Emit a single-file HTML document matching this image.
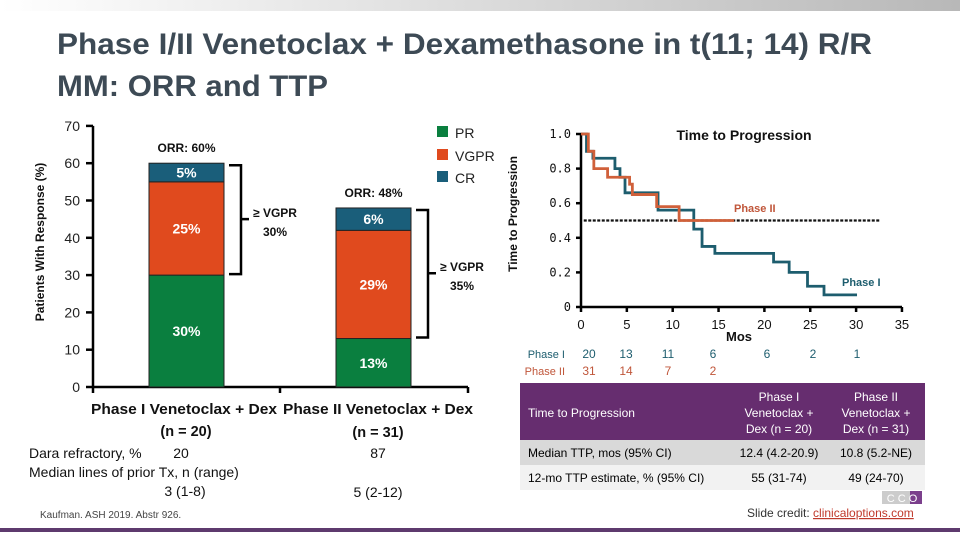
<!DOCTYPE html>
<html><head><meta charset="utf-8"><style>
html,body{margin:0;padding:0;background:#fff;}
svg{display:block;font-family:"Liberation Sans",sans-serif;}
</style></head><body>
<svg id="s" width="960" height="540" viewBox="0 0 960 540">
<defs><linearGradient id="g" x1="0" x2="1"><stop offset="0" stop-color="#fff"/><stop offset="1" stop-color="#b8b8b8"/></linearGradient></defs>
<rect x="0" y="0" width="960" height="11" fill="url(#g)"/>
<text x="57" y="54" font-size="30" font-weight="bold" fill="#3d4a55" textLength="815" lengthAdjust="spacingAndGlyphs">Phase I/II Venetoclax + Dexamethasone in t(11; 14) R/R</text>
<text x="57" y="96" font-size="30" font-weight="bold" fill="#3d4a55" textLength="271" lengthAdjust="spacingAndGlyphs">MM: ORR and TTP</text>
<g id="bar"></g>
<g id="km"></g>
<g font-size="14" fill="#111">
<text x="91" y="414" font-size="14.5" font-weight="bold" textLength="186" lengthAdjust="spacingAndGlyphs">Phase I Venetoclax + Dex</text>
<text x="186" y="436" text-anchor="middle" font-weight="bold" font-size="14.5">(n = 20)</text>
<text x="283" y="414" font-size="14.5" font-weight="bold" textLength="190" lengthAdjust="spacingAndGlyphs">Phase II Venetoclax + Dex</text>
<text x="378" y="437" text-anchor="middle" font-weight="bold" font-size="14.5">(n = 31)</text>
<text x="29" y="458">Dara refractory, %</text>
<text x="181" y="458" text-anchor="middle">20</text>
<text x="378" y="458" text-anchor="middle">87</text>
<text x="29" y="477">Median lines of prior Tx, n (range)</text>
<text x="185" y="496" text-anchor="middle">3 (1-8)</text>
<text x="378" y="497" text-anchor="middle">5 (2-12)</text>
<text x="40" y="518" font-size="10" fill="#444">Kaufman. ASH 2019. Abstr 926.</text>
</g>
<g font-size="12">
<rect x="520" y="383" width="405" height="57" fill="#662d6f"/>
<rect x="520" y="440" width="405" height="25" fill="#d9d9d9"/>
<rect x="520" y="465" width="405" height="25" fill="#f2f2f2"/>
<text x="528" y="417" fill="#fff">Time to Progression</text>
<g fill="#fff" text-anchor="middle"><text x="779" y="401">Phase I</text><text x="779" y="417">Venetoclax +</text><text x="779" y="433">Dex (n = 20)</text>
<text x="876" y="401">Phase II</text><text x="876" y="417">Venetoclax +</text><text x="876" y="433">Dex (n = 31)</text></g>
<text x="528" y="457">Median TTP, mos (95% CI)</text><text x="779" y="457" text-anchor="middle">12.4 (4.2-20.9)</text><text x="876" y="457" text-anchor="middle">10.8 (5.2-NE)</text>
<text x="528" y="482">12-mo TTP estimate, % (95% CI)</text><text x="779" y="482" text-anchor="middle">55 (31-74)</text><text x="876" y="482" text-anchor="middle">49 (24-70)</text>
</g>
<g><rect x="882" y="491" width="28" height="13" fill="#ccc"/><rect x="910" y="491" width="12" height="13" fill="#7b3f8c"/><text x="902" y="502" font-size="11" fill="#fff" text-anchor="middle">C C O</text></g>
<text x="747" y="517" font-size="12" fill="#333">Slide credit: <tspan fill="#c0392b" text-decoration="underline">clinicaloptions.com</tspan></text>
<rect x="0" y="528" width="960" height="4" fill="#5e3a6e"/>
</svg>
<script>
const categories=["Phase I","Phase II"];
const prVals=[30,13];
const vgprVals=[25,29];
const crVals=[5,6];
const orrVals=[60,48];
const vgprPlus=[30,35];
const yTicks=[0,10,20,30,40,50,60,70];
const kmTimes1=[0,0.6,1.3,3.7,4.25,4.8,8.4,12.3,13.2,14.6,21,22.7,24.7,26.5,30.1];
const kmSurv1=[1,0.9,0.86,0.8,0.75,0.66,0.56,0.45,0.35,0.31,0.26,0.2,0.12,0.07,0.07];
const kmTimes2=[0,0.8,1.4,2.9,5.3,5.6,8.25,10.7,16.7];
const kmSurv2=[1,0.9,0.8,0.75,0.71,0.65,0.58,0.5,0.5];
const xTicks=[0,5,10,15,20,25,30,35];
const kmYTicks=[0,0.2,0.4,0.6,0.8,1.0];
const atRisk1=[20,13,11,6,6,2,1];
const atRisk2=[31,14,7,2];
const NS="http://www.w3.org/2000/svg";
function mk(p,t,a,txt){const e=document.createElementNS(NS,t);for(const k in a)e.setAttribute(k,a[k]);if(txt!==undefined)e.textContent=txt;p.appendChild(e);return e;}
// bar chart
const B=document.getElementById('bar');
const by=v=>387-v*3.73;
const bx=i=>149+i*187;
mk(B,'line',{x1:93,y1:by(70),x2:93,y2:387,stroke:'#000','stroke-width':2.5});
mk(B,'line',{x1:93,y1:387,x2:468,y2:387,stroke:'#000','stroke-width':2.5});
[93,280,468].forEach(x=>mk(B,'line',{x1:x,y1:387,x2:x,y2:393,stroke:'#000','stroke-width':2.5}));
yTicks.forEach(t=>{mk(B,'line',{x1:86,y1:by(t),x2:93,y2:by(t),stroke:'#000','stroke-width':2.5});
const tx=mk(B,'text',{x:80,y:by(t)+5,'font-size':14,'text-anchor':'end',fill:'#222'},t);

});
const yt=mk(B,'text',{transform:'translate(44,242) rotate(-90)','font-size':12,'font-weight':'bold','text-anchor':'middle',fill:'#111'},'Patients With Response (%)');


const cols={pr:'#0a7f3f',vgpr:'#e04a1e',cr:'#1a5e7a'};
categories.forEach((c,i)=>{const x=bx(i),w=75;let base=0;
[[prVals[i],'pr'],[vgprVals[i],'vgpr'],[crVals[i],'cr']].forEach(([v,k])=>{
const r=mk(B,'rect',{x:x,y:by(base+v),width:w,height:v*3.73,fill:cols[k],stroke:'#222','stroke-width':1});


mk(B,'text',{x:x+w/2,y:by(base+v/2)+5,'font-size':14,'font-weight':'bold',fill:'#fff','text-anchor':'middle'},v+'%');
base+=v;});
const o=mk(B,'text',{x:x+w/2,y:by(orrVals[i])-11,'font-size':12,'font-weight':'bold','text-anchor':'middle',fill:'#111'},'ORR: '+orrVals[i]+'%');


const top=by(prVals[i]+vgprVals[i]+crVals[i]),bot=by(prVals[i]),bxx=x+w+17,mid=(top+bot)/2;
mk(B,'path',{d:`M${x+w+5} ${top+2}H${bxx}V${bot-1}H${x+w+5}M${bxx} ${mid}H${bxx+8}`,fill:'none',stroke:'#000','stroke-width':2.5});
const lx=i==0?275:462;
mk(B,'text',{x:lx,y:mid-2,'font-size':12,'font-weight':'bold','text-anchor':'middle',fill:'#111'},'≥ VGPR');
mk(B,'text',{x:lx,y:mid+17,'font-size':12,'font-weight':'bold','text-anchor':'middle',fill:'#111'},vgprPlus[i]+'%');});
[['PR','pr',132],['VGPR','vgpr',155],['CR','cr',177]].forEach(([l,k,y])=>{
mk(B,'rect',{x:437,y:y-6,width:11,height:11,fill:cols[k]});
const t=mk(B,'text',{x:455,y:y+6,'font-size':14,fill:'#222'},l);

});
// KM chart
const K=document.getElementById('km');
const kx=t=>581+t*9.17, ky=v=>307-v*173;
mk(K,'line',{x1:581,y1:ky(1),x2:581,y2:307,stroke:'#000','stroke-width':2.5});
mk(K,'line',{x1:581,y1:307,x2:902,y2:307,stroke:'#000','stroke-width':2.5});
kmYTicks.forEach(t=>{mk(K,'line',{x1:576,y1:ky(t),x2:581,y2:ky(t),stroke:'#000','stroke-width':2.5});
mk(K,'text',{x:571,y:ky(t)+4,'font-size':12,'text-anchor':'end',fill:'#111','font-family':'DejaVu Sans Mono'},t==0?'0':t.toFixed(1));});
xTicks.forEach(t=>{mk(K,'line',{x1:kx(t),y1:307,x2:kx(t),y2:312,stroke:'#000','stroke-width':2.5});
mk(K,'text',{x:kx(t),y:329,'font-size':13,'text-anchor':'middle',fill:'#111'},t);});
mk(K,'text',{x:739,y:341,'font-size':13,'font-weight':'bold','text-anchor':'middle',fill:'#111'},'Mos');
const kt=mk(K,'text',{transform:'translate(517,214) rotate(-90)','font-size':12,'font-weight':'bold','text-anchor':'middle',fill:'#111'},'Time to Progression');


mk(K,'text',{x:744,y:140,'font-size':14,'font-weight':'bold','text-anchor':'middle',fill:'#111'},'Time to Progression');
mk(K,'line',{x1:kx(0.3),y1:ky(0.5),x2:kx(32.6),y2:ky(0.5),stroke:'#111','stroke-width':2.2,'stroke-dasharray':'3,1.5'});
function step(ts,ss){let d=`M${kx(ts[0])} ${ky(ss[0])}`;for(let i=1;i<ts.length;i++){d+=`H${kx(ts[i])}V${ky(ss[i])}`;}return d;}
const p1=mk(K,'path',{d:step(kmTimes1,kmSurv1),fill:'none',stroke:'#1d5d6e','stroke-width':2.8});


const p2=mk(K,'path',{d:step(kmTimes2,kmSurv2),fill:'none',stroke:'#d0603a','stroke-width':2.8});


mk(K,'text',{x:734,y:212,'font-size':11,'font-weight':'bold',fill:'#c0563a'},'Phase II');
mk(K,'text',{x:842,y:286,'font-size':11,'font-weight':'bold',fill:'#1d5d6e'},'Phase I');
mk(K,'text',{x:565,y:358,'font-size':11,'text-anchor':'end',fill:'#1d5d6e'},'Phase I');
mk(K,'text',{x:565,y:375,'font-size':11,'text-anchor':'end',fill:'#c0563a'},'Phase II');
const rx=[589,626,668,713,767,813,857];
atRisk1.forEach((v,i)=>mk(K,'text',{x:rx[i],y:358,'font-size':12,'text-anchor':'middle',fill:'#1d5d6e'},v));
atRisk2.forEach((v,i)=>mk(K,'text',{x:rx[i],y:375,'font-size':12,'text-anchor':'middle',fill:'#c0563a'},v));
</script>
</body></html>
